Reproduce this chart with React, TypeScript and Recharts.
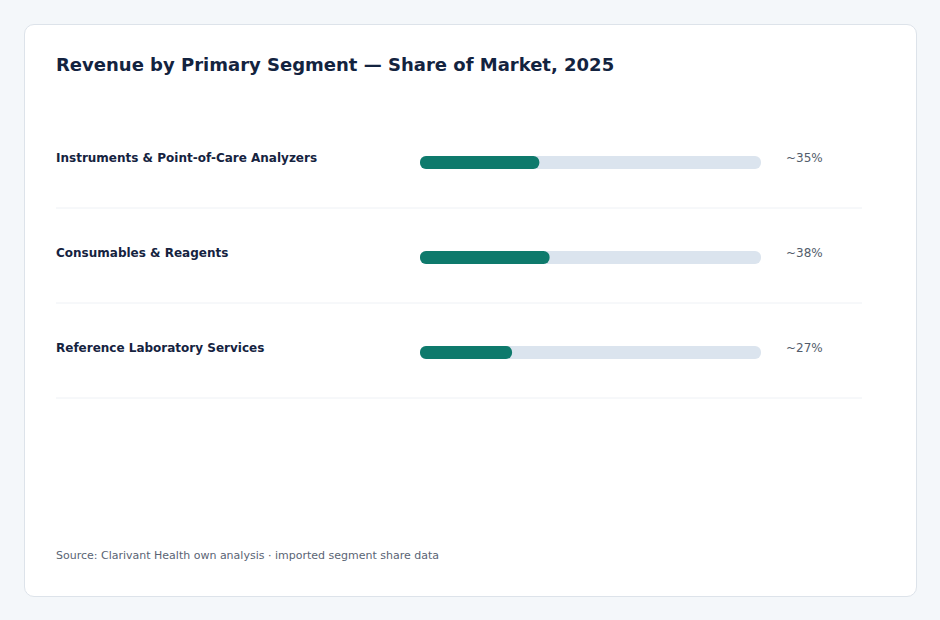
import React from 'react';
import { BarChart, Bar, XAxis, YAxis, LabelList } from 'recharts';

// Segment names and their approximate share of market (%)
const segments = [
  'Instruments & Point-of-Care Analyzers',
  'Consumables & Reagents',
  'Reference Laboratory Services',
];
const shares = [35, 38, 27];
const shareDomain = [0, 100];

const data = segments.map((name, i) => ({ name, share: shares[i] }));

const FONT = "'DejaVu Sans', Verdana, sans-serif";
const PLOT_LEFT = 420;
const PLOT_RIGHT = 761;
const LABEL_X = 56;
const RULE_RIGHT = 862;
const ROW_H = 95;

const SegmentTick = (props: any) => {
  const { y, payload } = props;
  return (
    <g>
      <text
        x={LABEL_X}
        y={y - 5}
        dominantBaseline="central"
        fontFamily={FONT}
        fontSize={12}
        fontWeight={700}
        fill="#15233f"
      >
        {payload.value}
      </text>
      <line
        x1={LABEL_X}
        x2={RULE_RIGHT}
        y1={y + ROW_H / 2 - 2}
        y2={y + ROW_H / 2 - 2}
        stroke="#eef1f5"
        strokeWidth={1}
      />
    </g>
  );
};

const ShareLabel = (props: any) => {
  const { y, height, value } = props;
  return (
    <text
      x={PLOT_RIGHT + 25}
      y={y + height / 2 - 5}
      dominantBaseline="central"
      fontFamily={FONT}
      fontSize={12}
      fill="#525c6b"
    >
      {`~${value}%`}
    </text>
  );
};

export default function App() {
  return (
    <div
      style={{
        position: 'absolute',
        left: 0,
        top: 0,
        width: 940,
        height: 620,
        background: '#f4f7fa',
        fontFamily: FONT,
      }}
    >
      <div
        style={{
          position: 'absolute',
          left: 24,
          top: 24,
          width: 893,
          height: 573,
          boxSizing: 'border-box',
          background: '#ffffff',
          border: '1px solid #dde3ea',
          borderRadius: 10,
        }}
      />
      <div
        style={{
          position: 'absolute',
          left: 56,
          top: 55,
          lineHeight: '20px',
          fontSize: 18,
          fontWeight: 700,
          color: '#13233f',
          whiteSpace: 'nowrap',
        }}
      >
        Revenue by Primary Segment — Share of Market, 2025
      </div>
      <div style={{ position: 'absolute', left: 0, top: 0 }}>
        <BarChart
          width={940}
          height={620}
          data={data}
          layout="vertical"
          margin={{ top: 115, right: 940 - PLOT_RIGHT, bottom: 620 - 115 - ROW_H * 3, left: 0 }}
          barSize={13}
        >
          <XAxis type="number" domain={shareDomain} hide />
          <YAxis
            type="category"
            dataKey="name"
            width={PLOT_LEFT}
            axisLine={false}
            tickLine={false}
            tick={<SegmentTick />}
            interval={0}
          />
          <Bar
            dataKey="share"
            fill="#0e7a6c"
            radius={6}
            background={{ fill: '#dbe4ee', radius: 6 }}
            isAnimationActive={false}
          >
            <LabelList dataKey="share" content={<ShareLabel />} />
          </Bar>
        </BarChart>
      </div>
      <div
        style={{
          position: 'absolute',
          left: 56,
          top: 549,
          lineHeight: '14px',
          fontSize: 11,
          color: '#5a6474',
          whiteSpace: 'nowrap',
        }}
      >
        Source: Clarivant Health own analysis · imported segment share data
      </div>
    </div>
  );
}
